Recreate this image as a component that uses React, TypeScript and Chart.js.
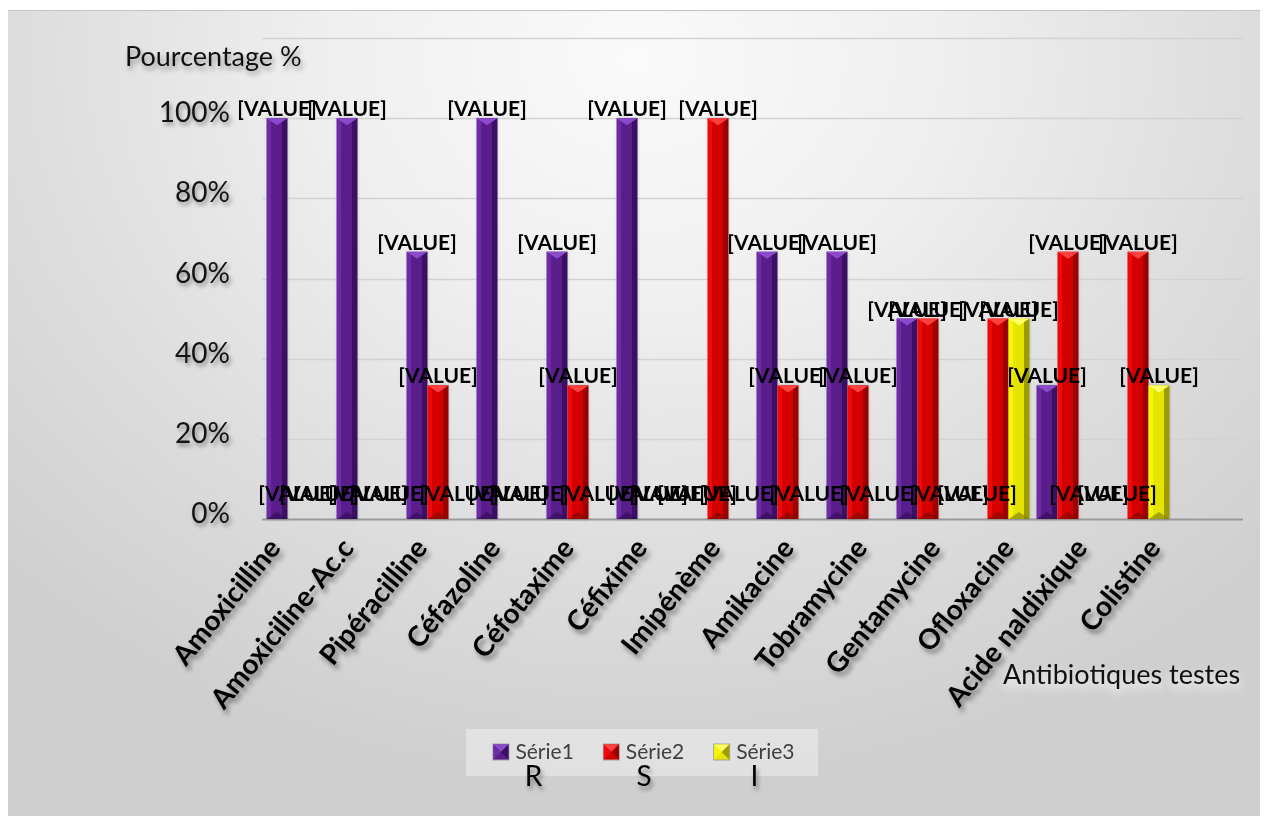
import { useEffect, useRef } from "react";
import { Chart, registerables } from "chart.js";

Chart.register(...registerables);

// Antibiotics tested (x axis)
const categories = [
  "Amoxicilline",
  "Amoxiciline-Ac.c",
  "Pipéracilline",
  "Céfazoline",
  "Céfotaxime",
  "Céfixime",
  "Imipénème",
  "Amikacine",
  "Tobramycine",
  "Gentamycine",
  "Ofloxacine",
  "Acide naldixique",
  "Colistine",
];

// Percent of strains per category: resistant / sensitive / intermediate
const serie1R = [100, 100, 66.67, 100, 66.67, 100, 0, 66.67, 66.67, 50, 0, 33.33, 0];
const serie2S = [0, 0, 33.33, 0, 33.33, 0, 100, 33.33, 33.33, 50, 50, 66.67, 66.67];
const serie3I = [0, 0, 0, 0, 0, 0, 0, 0, 0, 0, 50, 0, 33.33];

const seriesNames = ["Série1", "Série2", "Série3"];
const seriesCodes = ["R", "S", "I"];
const yTickValues = [0, 20, 40, 60, 80, 100, 120];
const yMax = 120;
const valueLabel = "[VALUE]";
const yTitle = "Pourcentage %";
const xTitle = "Antibiotiques testes";

type Palette = { face: string; light: string; dark: string; cap: string; foot: string };

const palettes: Palette[] = [
  { face: "#591d8c", light: "#6c2ca6", dark: "#3b0f63", cap: "#8a4acb", foot: "#2e0b4e" },
  { face: "#d40000", light: "#ee0a0a", dark: "#9a0000", cap: "#ff4040", foot: "#7a0000" },
  { face: "#e4e400", light: "#f6f600", dark: "#9c9c00", cap: "#ffff66", foot: "#7a7a00" },
];

const FONT = "Lato, 'Open Sans', sans-serif";

function shadowed(
  ctx: CanvasRenderingContext2D,
  color: string,
  blur: number,
  ox: number,
  oy: number,
  draw: () => void
) {
  ctx.save();
  ctx.shadowColor = color;
  ctx.shadowBlur = blur;
  ctx.shadowOffsetX = ox;
  ctx.shadowOffsetY = oy;
  draw();
  ctx.restore();
}

function bevelBar(
  ctx: CanvasRenderingContext2D,
  l: number,
  r: number,
  top: number,
  bottom: number,
  pal: Palette
) {
  const w = r - l;
  const h = bottom - top;
  if (h < 0.5) return;
  const cx = (l + r) / 2;
  const cap = Math.min(7, h / 2);
  ctx.save();
  ctx.shadowColor = "rgba(80,80,80,0.35)";
  ctx.shadowBlur = 3;
  const g = ctx.createLinearGradient(l, 0, r, 0);
  g.addColorStop(0, pal.light);
  g.addColorStop(0.2, pal.light);
  g.addColorStop(0.24, pal.face);
  g.addColorStop(0.72, pal.face);
  g.addColorStop(0.76, pal.dark);
  g.addColorStop(1, pal.dark);
  ctx.fillStyle = g;
  ctx.fillRect(l, top, w, h);
  ctx.restore();

  ctx.fillStyle = pal.cap;
  ctx.beginPath();
  ctx.moveTo(l, top);
  ctx.lineTo(r, top);
  ctx.lineTo(cx, top + cap);
  ctx.closePath();
  ctx.fill();

  ctx.fillStyle = pal.foot;
  ctx.globalAlpha = 0.6;
  ctx.beginPath();
  ctx.moveTo(l, bottom);
  ctx.lineTo(r, bottom);
  ctx.lineTo(cx, bottom - cap);
  ctx.closePath();
  ctx.fill();
  ctx.globalAlpha = 1;
}

function swatch(ctx: CanvasRenderingContext2D, x: number, y: number, s: number, pal: Palette) {
  ctx.fillStyle = "rgba(120,120,120,0.6)";
  ctx.fillRect(x - 1, y - 1, s + 2, s + 2);
  ctx.fillStyle = pal.face;
  ctx.fillRect(x, y, s, s);
  const c = s / 2;
  ctx.fillStyle = pal.cap;
  ctx.beginPath();
  ctx.moveTo(x, y);
  ctx.lineTo(x + s, y);
  ctx.lineTo(x + c, y + c);
  ctx.closePath();
  ctx.fill();
  ctx.fillStyle = pal.light;
  ctx.beginPath();
  ctx.moveTo(x, y);
  ctx.lineTo(x, y + s);
  ctx.lineTo(x + c, y + c);
  ctx.closePath();
  ctx.fill();
  ctx.fillStyle = pal.dark;
  ctx.beginPath();
  ctx.moveTo(x + s, y);
  ctx.lineTo(x + s, y + s);
  ctx.lineTo(x + c, y + c);
  ctx.closePath();
  ctx.fill();
}

// Back wall, axes, titles and legend of the 3-D style column chart
const decorations = {
  id: "decorations",
  beforeDatasetsDraw(chart: any) {
    const { ctx, chartArea: area } = chart;
    const xs = chart.scales.x;
    const ys = chart.scales.y;
    const step = xs.getPixelForValue(1) - xs.getPixelForValue(0);
    const wallLeft = area.left - 1;
    const wallRight = area.right + step;

    // gridlines on the back wall
    yTickValues.forEach((v) => {
      const py = Math.round(ys.getPixelForValue(v)) + 0.5;
      ctx.save();
      ctx.strokeStyle = v === 0 ? "#9a9a9a" : "#d2d2d2";
      ctx.lineWidth = v === 0 ? 2 : 1.5;
      ctx.beginPath();
      ctx.moveTo(wallLeft, py);
      ctx.lineTo(wallRight, py);
      ctx.stroke();
      ctx.restore();
    });

    // y tick labels
    ctx.save();
    ctx.font = `28px ${FONT}`;
    ctx.textAlign = "right";
    ctx.textBaseline = "middle";
    ctx.fillStyle = "#141414";
    yTickValues.forEach((v) => {
      if (v === yMax) return;
      const py = ys.getPixelForValue(v);
      shadowed(ctx, "rgba(0,0,0,0.4)", 4, 2, 3, () => {
        ctx.fillText(`${v}%`, area.left - 33, py - 5);
      });
    });
    ctx.restore();

    // category labels along the front edge of the floor
    const spread = 1.0476;
    ctx.save();
    ctx.font = `bold 28px ${FONT}`;
    ctx.textAlign = "right";
    ctx.textBaseline = "middle";
    ctx.fillStyle = "#000";
    categories.forEach((name, i) => {
      const px = xs.getPixelForValue(i);
      const ax = area.left - 24.7 + (px - area.left) * spread;
      const ay = area.bottom + 24;
      shadowed(ctx, "rgba(0,0,0,0.45)", 5, 3, 4, () => {
        ctx.save();
        ctx.translate(ax, ay);
        ctx.rotate((-51 * Math.PI) / 180);
        ctx.fillText(name, 0, 0);
        ctx.restore();
      });
    });
    ctx.restore();

    // axis titles
    ctx.save();
    ctx.font = `27px ${FONT}`;
    ctx.textBaseline = "middle";
    ctx.textAlign = "left";
    ctx.fillStyle = "#111";
    shadowed(ctx, "rgba(0,0,0,0.35)", 5, 2, 4, () => {
      ctx.fillText(yTitle, 125, 57);
    });
    shadowed(ctx, "rgba(255,255,255,0.95)", 9, 0, 5, () => {
      ctx.fillText(xTitle, 1003, 675);
    });
    ctx.restore();

    // legend
    const boxL = 466;
    const boxR = 818;
    const boxT = 729;
    const boxB = 776;
    ctx.save();
    ctx.fillStyle = "rgba(238,238,238,0.55)";
    ctx.fillRect(boxL, boxT, boxR - boxL, boxB - boxT);
    ctx.font = `21px ${FONT}`;
    const sw = 15;
    const gap = 7;
    const between = 30;
    const widths = seriesNames.map((n) => sw + gap + ctx.measureText(n).width);
    const total = widths.reduce((a, b) => a + b, 0) + between * (widths.length - 1);
    let x = (boxL + boxR) / 2 - total / 2 + 2;
    const cy = 752;
    const centers: number[] = [];
    seriesNames.forEach((n, i) => {
      swatch(ctx, x, cy - sw / 2, sw, palettes[i]);
      ctx.fillStyle = "#404040";
      ctx.textAlign = "left";
      ctx.textBaseline = "middle";
      ctx.fillText(n, x + sw + gap, cy);
      centers.push(x + widths[i] / 2);
      x += widths[i] + between;
    });
    ctx.font = `28px ${FONT}`;
    ctx.fillStyle = "#000";
    ctx.textAlign = "center";
    seriesCodes.forEach((c, i) => {
      shadowed(ctx, "rgba(0,0,0,0.4)", 4, 2, 4, () => {
        ctx.fillText(c, centers[i], 777);
      });
    });
    ctx.restore();
  },
  afterDatasetsDraw(chart: any) {
    const { ctx } = chart;
    // beveled columns
    chart.data.datasets.forEach((ds: any, di: number) => {
      const meta = chart.getDatasetMeta(di);
      meta.data.forEach((el: any) => {
        const p = el.getProps(["x", "y", "base", "width"], true);
        bevelBar(ctx, p.x - p.width / 2, p.x + p.width / 2, p.y, p.base, palettes[di]);
      });
    });
    // data labels
    ctx.save();
    ctx.font = `bold 21px ${FONT}`;
    ctx.textAlign = "center";
    ctx.textBaseline = "alphabetic";
    ctx.fillStyle = "#000";
    chart.data.datasets.forEach((ds: any, di: number) => {
      const meta = chart.getDatasetMeta(di);
      meta.data.forEach((el: any, j: number) => {
        const v = ds.data[j];
        const p = el.getProps(["x", "y", "base"], true);
        const y = v > 0 ? p.y - 2 : p.base - 18;
        ctx.fillText(valueLabel, p.x, y);
      });
    });
    ctx.restore();
  },
};

export default function App() {
  const ref = useRef<HTMLCanvasElement | null>(null);

  useEffect(() => {
    if (!ref.current) return;
    const chart = new Chart(ref.current, {
      type: "bar",
      data: {
        labels: categories,
        datasets: [serie1R, serie2S, serie3I].map((d, i) => ({
          label: seriesNames[i],
          data: d,
          backgroundColor: "rgba(0,0,0,0)",
          borderWidth: 0,
          categoryPercentage: 0.9,
          barPercentage: 1,
        })),
      },
      options: {
        responsive: false,
        animation: false,
        events: [],
        layout: { padding: { left: 263, right: 92, top: 38, bottom: 297 } },
        plugins: { legend: { display: false }, tooltip: { enabled: false } },
        scales: {
          x: { display: false },
          y: { display: false, min: 0, max: yMax },
        },
      },
      plugins: [decorations],
    });
    return () => chart.destroy();
  }, []);

  return (
    <div style={{ position: "absolute", left: 0, top: 0, width: 1265, height: 816, background: "#fff", overflow: "hidden" }}>
      <div
        style={{
          position: "absolute",
          left: 8,
          top: 10,
          width: 1252,
          height: 806,
          borderTop: "1px solid #c4c4c4",
          background:
            "radial-gradient(ellipse 70% 90% at 50% 6%, #fafafa 0%, #efefef 35%, #dedede 68%, #cfcfcf 100%)",
        }}
      />
      <canvas ref={ref} width={1265} height={816} style={{ position: "absolute", left: 0, top: 0 }} />
    </div>
  );
}
